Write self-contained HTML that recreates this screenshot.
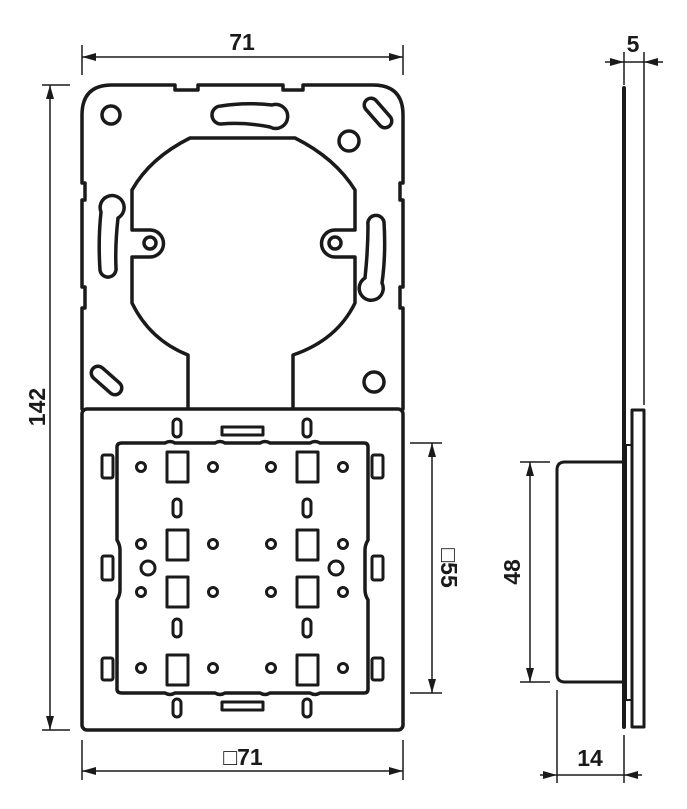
<!DOCTYPE html>
<html><head><meta charset="utf-8"><style>
html,body{margin:0;padding:0;background:#fff;}
svg{display:block;}
text{font-family:"Liberation Sans",Arial,sans-serif;font-weight:bold;font-size:23px;fill:#1a1a1a;}
</style></head><body>
<svg width="687" height="809" viewBox="0 0 687 809" xmlns="http://www.w3.org/2000/svg">
<defs>
<marker id="a" viewBox="0 0 14 8" refX="14" refY="4" markerWidth="14" markerHeight="8" markerUnits="userSpaceOnUse" orient="auto"><path d="M0,0 L14,4 L0,8 Z" fill="#1a1a1a"/></marker>
</defs>
<g fill="none" stroke="#1a1a1a" stroke-width="3.5" stroke-linejoin="round" stroke-linecap="round">
<path d="M82,409 L82,308 L85,308 L85,287 L82,287 L82,200 L85,200 L85,183 L82,183 L82,115 Q82,85 112,85 L175,85 L175,90 L198,90 L198,85 L283,85 L283,90 L303,90 L303,85 L373,85 Q403,85 403,115 L403,183 L400,183 L400,200 L403,200 L403,287 L400,287 L400,308 L403,308 L403,409"/>
<path d="M188,407 L188,355 Q150,340 132,303 L132,257 L150,257 A13.5,13.5 0 0 0 150,230 L132,230 L132,190 Q150,158 190,138 L295,138 Q335,158 355,190 L355,230 L335,230 A13.5,13.5 0 0 0 335,257 L355,257 L355,303 Q337,340 293,355 L293,407"/>
<circle cx="150" cy="243" r="6"/><circle cx="335" cy="243" r="6"/>
<circle cx="111" cy="115" r="9"/>
<circle cx="349" cy="141" r="10"/>
<circle cx="374" cy="382" r="10"/>
<path d="M221,106 Q245,102 272,105 A12,12 0 1 1 270,127 Q245,122 221,124 A9,9 0 0 1 221,106 Z"/>
<path d="M101,212 A12,12 0 1 1 118,218 Q115,245 116,268 A8,8 0 0 1 100,270 Q98,240 101,212 Z"/>
<path d="M382,283 A12,12 0 1 1 365,278 Q368,250 368,225 A8,8 0 0 1 384,222 Q386,255 382,283 Z"/>
<line x1="371" y1="105" x2="385" y2="121" stroke-width="17"/>
<line x1="371" y1="105" x2="385" y2="121" stroke="#fff" stroke-width="10"/>
<line x1="98" y1="373" x2="115" y2="388" stroke-width="17"/>
<line x1="98" y1="373" x2="115" y2="388" stroke="#fff" stroke-width="10"/>
<rect x="82" y="409" width="321" height="321" rx="5"/>
<path d="M122,443 L165,443 Q170,440 175,443 L215,443 Q220,440 225,443 L260,443 Q265,440 270,443 L310,443 Q315,440 320,443 L364,443 Q368,443 368,447 L368,540 Q365,545 365,550 L365,590 Q365,595 368,600 L368,689 Q368,693 364,693 L320,693 Q315,696 310,693 L270,693 Q265,696 260,693 L225,693 Q220,696 215,693 L175,693 Q170,696 165,693 L122,693 Q117,693 117,689 L117,600 Q120,595 120,590 L120,550 Q120,545 117,540 L117,447 Q117,443 122,443 Z"/>
<g stroke-width="3">
<rect x="173" y="419" width="8" height="18" rx="4"/><rect x="303" y="419" width="8" height="18" rx="4"/>
<rect x="173" y="499" width="8" height="18" rx="4"/><rect x="303" y="499" width="8" height="18" rx="4"/>
<rect x="173" y="619" width="8" height="18" rx="4"/><rect x="303" y="619" width="8" height="18" rx="4"/>
<rect x="173" y="699" width="8" height="18" rx="4"/><rect x="303" y="699" width="8" height="18" rx="4"/>
<rect x="222" y="427" width="41" height="8"/><rect x="222" y="702" width="41" height="8"/>
<rect x="102" y="455" width="11" height="23" rx="2"/><rect x="102" y="556" width="11" height="24" rx="2"/><rect x="102" y="658" width="11" height="22" rx="2"/>
<rect x="372" y="455" width="11" height="23" rx="2"/><rect x="372" y="556" width="11" height="24" rx="2"/><rect x="372" y="658" width="11" height="22" rx="2"/>
<rect x="167" y="452" width="21" height="30"/><rect x="167" y="530" width="21" height="30"/><rect x="167" y="577" width="21" height="30"/><rect x="167" y="655" width="21" height="30"/>
<rect x="297" y="452" width="21" height="30"/><rect x="297" y="530" width="21" height="30"/><rect x="297" y="577" width="21" height="30"/><rect x="297" y="655" width="21" height="30"/>
<circle cx="141" cy="467" r="4.5"/><circle cx="213" cy="467" r="4.5"/><circle cx="271" cy="467" r="4.5"/><circle cx="343" cy="467" r="4.5"/>
<circle cx="141" cy="544" r="4.5"/><circle cx="213" cy="544" r="4.5"/><circle cx="271" cy="544" r="4.5"/><circle cx="343" cy="544" r="4.5"/>
<circle cx="141" cy="592" r="4.5"/><circle cx="213" cy="592" r="4.5"/><circle cx="271" cy="592" r="4.5"/><circle cx="343" cy="592" r="4.5"/>
<circle cx="141" cy="668" r="4.5"/><circle cx="213" cy="668" r="4.5"/><circle cx="271" cy="668" r="4.5"/><circle cx="343" cy="668" r="4.5"/>
<circle cx="148" cy="568" r="7"/><circle cx="336" cy="568" r="7"/>
</g>
<line x1="624" y1="88" x2="624" y2="727" stroke-width="4"/>
<rect x="632" y="410" width="12" height="317" stroke-width="3"/>
<rect x="626" y="445" width="6" height="255" stroke-width="2"/>
<path d="M624,462 L565,462 Q557,462 557,470 L557,674 Q557,682 565,682 L624,682" stroke-width="3"/>
</g>
<g stroke="#1a1a1a" stroke-width="1.5" fill="none">
<line x1="82" y1="45" x2="82" y2="75"/><line x1="403" y1="45" x2="403" y2="75"/>
<line x1="242" y1="57" x2="82" y2="57" marker-end="url(#a)"/><line x1="242" y1="57" x2="403" y2="57" marker-end="url(#a)"/>
<line x1="42" y1="85" x2="70" y2="85"/><line x1="42" y1="730" x2="70" y2="730"/>
<line x1="50" y1="408" x2="50" y2="85" marker-end="url(#a)"/><line x1="50" y1="408" x2="50" y2="730" marker-end="url(#a)"/>
<line x1="82" y1="740" x2="82" y2="780"/><line x1="403" y1="740" x2="403" y2="780"/>
<line x1="242" y1="771" x2="82" y2="771" marker-end="url(#a)"/><line x1="242" y1="771" x2="403" y2="771" marker-end="url(#a)"/>
<line x1="410" y1="443" x2="442" y2="443"/><line x1="410" y1="693" x2="442" y2="693"/>
<line x1="432" y1="568" x2="432" y2="443" marker-end="url(#a)"/><line x1="432" y1="568" x2="432" y2="693" marker-end="url(#a)"/>
<line x1="520" y1="462" x2="550" y2="462"/><line x1="520" y1="682" x2="550" y2="682"/>
<line x1="530" y1="572" x2="530" y2="462" marker-end="url(#a)"/><line x1="530" y1="572" x2="530" y2="682" marker-end="url(#a)"/>
<line x1="557" y1="690" x2="557" y2="783"/><line x1="624" y1="735" x2="624" y2="783"/>
<line x1="540" y1="775" x2="557" y2="775" marker-end="url(#a)"/><line x1="642" y1="775" x2="624" y2="775" marker-end="url(#a)"/>
<line x1="557" y1="775" x2="624" y2="775"/>
<line x1="624" y1="52" x2="624" y2="85"/><line x1="644" y1="52" x2="644" y2="405"/>
<line x1="605" y1="62" x2="624" y2="62" marker-end="url(#a)"/><line x1="663" y1="62" x2="644" y2="62" marker-end="url(#a)"/>
<line x1="624" y1="62" x2="644" y2="62"/>
</g>
<text x="242" y="50" text-anchor="middle">71</text>
<text x="243" y="765" text-anchor="middle">□71</text>
<text x="590" y="766" text-anchor="middle">14</text>
<text x="633" y="52" text-anchor="middle">5</text>
<text transform="translate(45,407) rotate(-90)" text-anchor="middle">142</text>
<text transform="translate(520,572) rotate(-90)" text-anchor="middle">48</text>
<text transform="translate(441,568) rotate(90)" text-anchor="middle">□55</text>
</svg>
</body></html>
